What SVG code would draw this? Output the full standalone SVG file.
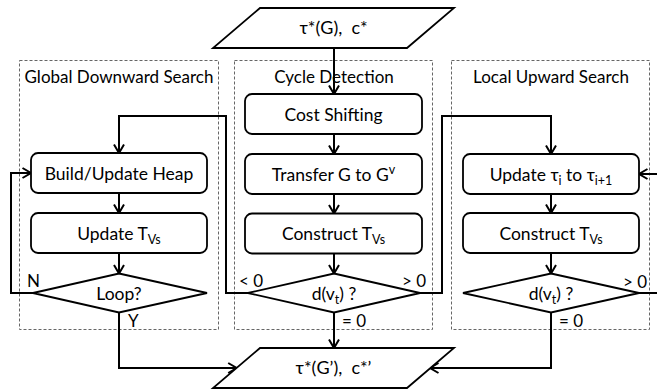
<svg xmlns="http://www.w3.org/2000/svg" width="657" height="389" viewBox="0 0 657 389">
<defs>
<style>
text{font-family:Lato,"Liberation Sans",sans-serif;fill:#000}
.t{font-size:17.5px;text-anchor:middle}
.p{font-size:18px;text-anchor:middle}
.h{font-size:17px;text-anchor:middle}
.l{font-size:17px}
.s{font-size:12.5px}
.box{fill:#fff;stroke:#000;stroke-width:1.8}
.grp{fill:none;stroke:#666;stroke-width:1;stroke-dasharray:3 2}
.c{fill:none;stroke:#000;stroke-width:2}
</style>
<marker id="a" markerUnits="userSpaceOnUse" viewBox="0 0 12 12" markerWidth="12" markerHeight="12" refX="10" refY="6" orient="auto">
<path d="M1.5,1 L10,6 L1.5,11" fill="none" stroke="#000" stroke-width="2"/>
</marker>
</defs>
<rect width="657" height="389" fill="#fff"/>
<g id="groups">
<rect class="grp" x="19.5" y="60.5" width="199" height="269"/>
<rect class="grp" x="234.5" y="60.5" width="198" height="269"/>
<rect class="grp" x="451.5" y="60.5" width="198" height="269"/>
<text class="h" x="119" y="82.5">Global Downward Search</text>
<text class="h" x="334" y="82.5">Cycle Detection</text>
<text class="h" x="551" y="82.5">Local Upward Search</text>
</g>
<g id="connectors">
<path class="c" d="M334,48 V94" marker-end="url(#a)"/>
<path class="c" d="M334,134 V154" marker-end="url(#a)"/>
<path class="c" d="M334,194 V213.5" marker-end="url(#a)"/>
<path class="c" d="M334,253.5 V273.5" marker-end="url(#a)"/>
<path class="c" d="M334,312.5 V348" marker-end="url(#a)"/>
<path class="c" d="M248,293 H226 V116 H119 V153" marker-end="url(#a)"/>
<path class="c" d="M420,293 H442 V116 H551 V154" marker-end="url(#a)"/>
<path class="c" d="M33,293 H11 V173 H31" marker-end="url(#a)"/>
<path class="c" d="M119,312.5 V368 H236.7" marker-end="url(#a)"/>
<path class="c" d="M551,312.5 V368 H430" marker-end="url(#a)"/>
<path class="c" d="M639,293 H657"/>
<path class="c" d="M657,174 H639" marker-end="url(#a)"/>
<path class="c" d="M119,193 V213" marker-end="url(#a)"/>
<path class="c" d="M119,253 V273.5" marker-end="url(#a)"/>
<path class="c" d="M551,194 V213" marker-end="url(#a)"/>
<path class="c" d="M551,253 V273.5" marker-end="url(#a)"/>
</g>
<g id="input">
<polygon class="box" points="260,8 454,8 407,48 213,48"/>
<text class="p" x="333.5" y="34">τ*(G),&#160; c*</text>
</g>
<g id="cost-shifting">
<rect class="box" x="245" y="94" width="177" height="40" rx="7"/>
<text class="t" x="333.5" y="121">Cost Shifting</text>
</g>
<g id="transfer">
<rect class="box" x="245" y="154" width="177" height="40" rx="7"/>
<text class="t" x="333.5" y="180.5">Transfer G to G<tspan class="s" dy="-7">v</tspan></text>
</g>
<g id="construct-mid">
<rect class="box" x="245" y="213.5" width="177" height="40" rx="7"/>
<text class="t" x="333.5" y="240">Construct T<tspan class="s" dy="4">Vs</tspan></text>
</g>
<g id="decision-mid">
<polygon class="box" points="334,273.5 420,293 334,312.5 248,293"/>
<text class="t" x="334" y="300">d(v<tspan class="s" dy="4">t</tspan><tspan dy="-4">) ?</tspan></text>
</g>
<g id="build-heap">
<rect class="box" x="31" y="153" width="176" height="40" rx="7"/>
<text class="t" x="119" y="180">Build/Update Heap</text>
</g>
<g id="update-tvs">
<rect class="box" x="31" y="213" width="176" height="40" rx="7"/>
<text class="t" x="119" y="240">Update T<tspan class="s" dy="4">Vs</tspan></text>
</g>
<g id="loop">
<polygon class="box" points="119,273.5 207,293 119,312.5 33,293"/>
<text class="t" x="119" y="300">Loop?</text>
</g>
<g id="update-tau">
<rect class="box" x="463" y="154" width="176" height="40" rx="7"/>
<text class="t" x="551" y="180.5">Update τ<tspan class="s" dy="4">i</tspan><tspan dy="-4"> to τ</tspan><tspan class="s" dy="4">i+1</tspan></text>
</g>
<g id="construct-right">
<rect class="box" x="463" y="213" width="176" height="40" rx="7"/>
<text class="t" x="551" y="240">Construct T<tspan class="s" dy="4">Vs</tspan></text>
</g>
<g id="decision-right">
<polygon class="box" points="551,273.5 639,293 551,312.5 463,293"/>
<text class="t" x="551" y="300">d(v<tspan class="s" dy="4">t</tspan><tspan dy="-4">) ?</tspan></text>
</g>
<g id="output">
<polygon class="box" points="260,348 454,348 407,388 213,388"/>
<text class="p" x="333.5" y="374">τ*(G’),&#160; c*’</text>
</g>
<g id="labels">
<text class="l" x="27" y="287">N</text>
<text class="l" x="128" y="327">Y</text>
<text class="l" x="239" y="287">&lt; 0</text>
<text class="l" x="402" y="287">&gt; 0</text>
<text class="l" x="342" y="327">= 0</text>
<text class="l" x="623" y="288">&gt; 0</text>
<text class="l" x="559" y="327">= 0</text>
</g>
</svg>
